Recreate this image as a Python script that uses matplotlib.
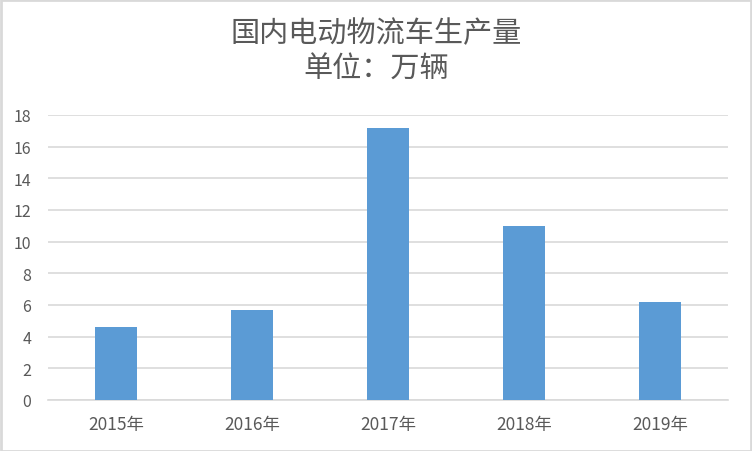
import matplotlib
matplotlib.use("Agg")
import matplotlib.pyplot as plt
from matplotlib.patches import Rectangle

plt.rcParams['font.family'] = ['Noto Sans CJK SC', 'DejaVu Sans']

categories = ['2015年', '2016年', '2017年', '2018年', '2019年']
values = [4.6, 5.7, 17.2, 11.0, 6.2]
yticks = [0, 2, 4, 6, 8, 10, 12, 14, 16, 18]
title_line1 = '国内电动物流车生产量'
title_line2 = '单位：万辆'

W, H = 752, 452
fig = plt.figure(figsize=(W / 100, H / 100), dpi=100)
ax = fig.add_axes([48 / W, (H - 401) / H, (728 - 48) / W, (401 - 116) / H])

x = list(range(len(categories)))
ax.bar(x, values, width=0.31, color='#5b9bd5', zorder=3)

ax.set_xlim(-0.5, len(categories) - 0.5)
ax.set_ylim(0, 18)
ax.set_yticks(yticks)
ax.set_xticks(x)
ax.set_xticklabels(categories)
ax.grid(axis='y', color='#d9d9d9', linewidth=1.2, zorder=0)
ax.set_axisbelow(True)
for s in ['top', 'right', 'left']:
    ax.spines[s].set_visible(False)
ax.spines['bottom'].set_color('#d9d9d9')
ax.spines['bottom'].set_linewidth(1.2)
ax.tick_params(axis='both', length=0, labelcolor='#595959')
ax.tick_params(axis='y', pad=12, labelsize=11.5)
ax.tick_params(axis='x', pad=11, labelsize=12.5)

fig.text(0.5, 1 - 34 / H, title_line1, ha='center', va='center', fontsize=21, color='#595959')
fig.text(0.5, 1 - 70 / H, title_line2, ha='center', va='center', fontsize=21, color='#595959')

fig.patches.append(Rectangle((0.5 / W, 0.5 / H), (W - 1.5) / W, (H - 1.5) / H,
                             transform=fig.transFigure, fill=False,
                             edgecolor='#d9d9d9', linewidth=2.0))

fig.savefig('out.png', dpi=100, facecolor='white')
